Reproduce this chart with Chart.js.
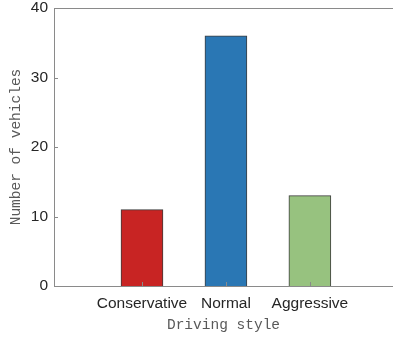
<!DOCTYPE html>
<html>
<head>
<meta charset="utf-8">
<script src="https://cdn.jsdelivr.net/npm/chart.js@4/dist/chart.umd.min.js"></script>
<style>
  html, body { margin: 0; padding: 0; background: #fff; }
  #wrap { width: 393px; height: 337px; }
</style>
</head>
<body>
<div id="wrap"><canvas id="styleChart"></canvas></div>
<script>
const categories = ["Conservative", "Normal", "Aggressive"];
const counts = [11, 36, 13];
const barColors = ["#C82423", "#2A77B4", "#97C27F"];
const yTicks = [0, 10, 20, 30, 40];

const axisColor = "#8a8a8a";

// MATLAB-like box top line and inward tick marks
const matlabAxes = {
  id: "matlabAxes",
  afterDraw(chart) {
    const { ctx, chartArea, scales } = chart;
    ctx.save();
    ctx.strokeStyle = axisColor;
    ctx.lineWidth = 1;
    ctx.beginPath();
    ctx.moveTo(chartArea.left, Math.round(chartArea.top) + 0.5);
    ctx.lineTo(chartArea.right, Math.round(chartArea.top) + 0.5);
    scales.y.ticks.forEach(t => {
      const py = Math.round(scales.y.getPixelForValue(t.value)) + 0.5;
      ctx.moveTo(chartArea.left, py);
      ctx.lineTo(chartArea.left + 4, py);
    });
    scales.x.ticks.forEach(t => {
      const px = Math.round(scales.x.getPixelForValue(t.value)) + 0.5;
      ctx.moveTo(px, chartArea.bottom);
      ctx.lineTo(px, chartArea.bottom - 4);
    });
    ctx.stroke();
    ctx.restore();
  }
};

new Chart(document.getElementById("styleChart").getContext("2d"), {
  type: "bar",
  data: {
    datasets: [{
      data: categories.map((c, i) => ({ x: i + 1, y: counts[i] })),
      backgroundColor: barColors,
      borderColor: "#3c3c3c",
      borderWidth: 1,
      barThickness: 42
    }]
  },
  options: {
    responsive: true,
    maintainAspectRatio: false,
    animation: false,
    layout: { padding: { top: 8, right: 0, bottom: 0, left: 0 } },
    plugins: { legend: { display: false }, tooltip: { enabled: false } },
    scales: {
      x: {
        type: "linear",
        offset: false,
        min: -0.048,
        max: 3.99,
        afterBuildTicks: s => { s.ticks = categories.map((c, i) => ({ value: i + 1 })); },
        afterFit: s => { s.height = 51; s.paddingLeft = 0; s.paddingRight = 0; },
        grid: { display: false, drawTicks: false, offset: false },
        border: { display: true, color: axisColor, width: 1 },
        ticks: {
          callback: v => categories[v - 1],
          color: "#262626",
          font: { family: "'Liberation Sans', Arial, sans-serif", size: 15.5 },
          padding: 8,
          maxRotation: 0,
          autoSkip: false
        },
        title: {
          display: true,
          text: "Driving style",
          color: "#595959",
          font: { family: "'Liberation Mono', monospace", size: 14.5 },
          padding: { top: 0, bottom: 3 }
        }
      },
      y: {
        min: 0,
        max: 40,
        afterBuildTicks: s => { s.ticks = yTicks.map(v => ({ value: v })); },
        afterFit: s => { s.width = 54; s.paddingTop = 0; s.paddingBottom = 0; },
        grid: { display: false, drawTicks: false },
        border: { display: true, color: axisColor, width: 1 },
        ticks: {
          color: "#262626",
          font: { family: "'Liberation Sans', Arial, sans-serif", size: 15.5 },
          padding: 6
        },
        title: {
          display: true,
          text: "Number of vehicles",
          color: "#595959",
          font: { family: "'Liberation Mono', monospace", size: 14.5 },
          padding: { top: 7, bottom: 0 }
        }
      }
    }
  },
  plugins: [matlabAxes]
});
</script>
</body>
</html>
